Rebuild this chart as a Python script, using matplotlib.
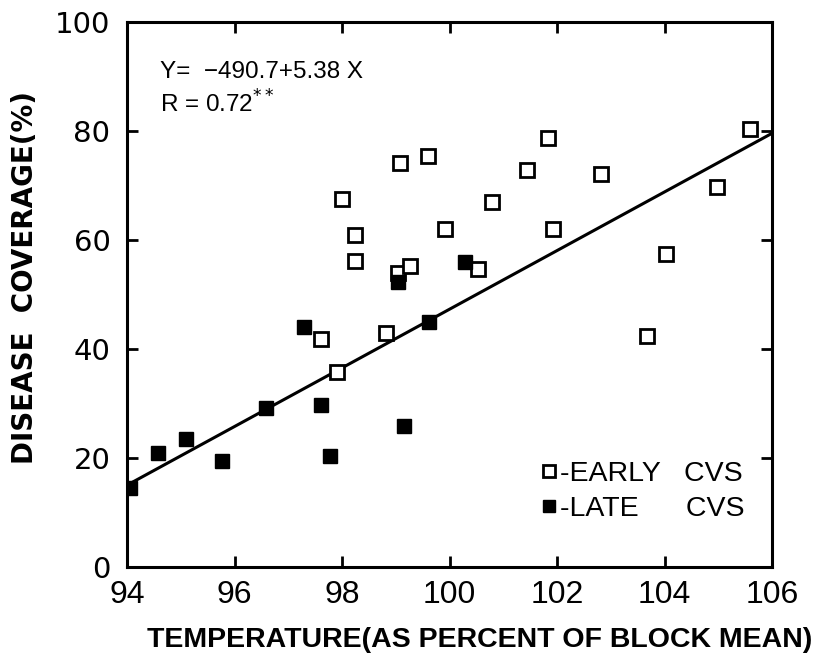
import matplotlib
matplotlib.use("Agg")
import matplotlib.pyplot as plt

# data
early_x = [99.08, 99.60, 97.99, 98.24, 98.25, 99.05, 99.27, 99.92, 97.61, 98.81, 97.90,
           105.59, 101.83, 101.45, 102.82, 100.79, 104.97, 101.92, 100.52, 104.03, 103.68]
early_y = [74.1, 75.4, 67.5, 60.9, 56.1, 54.0, 55.2, 62.1, 41.8, 43.0, 35.7,
           80.3, 78.7, 72.8, 72.1, 67.0, 69.7, 62.0, 54.6, 57.4, 42.3]
late_x = [94.05, 94.58, 95.10, 95.76, 96.59, 97.29, 97.61, 97.78, 99.05, 99.16, 99.61, 100.29]
late_y = [14.5, 21.0, 23.5, 19.5, 29.2, 44.1, 29.8, 20.4, 52.3, 25.9, 44.9, 55.9]

intercept = -490.7
slope = 5.38
line_x = [94, 106]

xticks = [94, 96, 98, 100, 102, 104, 106]
yticks = [0, 20, 40, 60, 80, 100]

fig = plt.figure(figsize=(8.17, 6.70), dpi=100)
ax = fig.add_axes([0.1555, 0.1537, 0.7895, 0.8135])

ax.plot(line_x, [intercept + slope * x for x in line_x], color="black", lw=2.2, zorder=2)
ax.plot(early_x, early_y, "s", ms=10, mfc="white", mec="black", mew=2.0, ls="none",
        zorder=3, label="-EARLY   CVS")
ax.plot(late_x, late_y, "s", ms=10.5, mfc="black", mec="black", ls="none",
        zorder=4, label="-LATE      CVS")

ax.set_xlim(94, 106)
ax.set_ylim(0, 100)
ax.set_xticks(xticks)
ax.set_yticks(yticks)
ax.tick_params(direction="in", length=8, width=2, top=True, right=True)
ax.tick_params(axis="x", pad=9)
ax.tick_params(axis="y", pad=12)
for s in ax.spines.values():
    s.set_linewidth(2.2)

for lab in ax.get_xticklabels():
    lab.set_fontfamily("Liberation Sans")
    lab.set_fontsize(23)
for lab in ax.get_yticklabels():
    lab.set_fontfamily("DejaVu Sans")
    lab.set_fontsize(21)

fig.text(25 / 817, 1 - 278 / 670, "DISEASE  COVERAGE(%)", fontsize=20, fontweight="bold",
         fontfamily="DejaVu Sans", rotation=90, ha="center", va="center")
fig.text(0.587, 0.045, "TEMPERATURE(AS PERCENT OF BLOCK MEAN)", fontsize=20.5,
         fontweight="bold", fontfamily="Liberation Sans", ha="center", va="center")

ax.text(0.051, 0.908, "Y=  \u2212490.7+5.38 X", transform=ax.transAxes, fontsize=17.5,
        fontfamily="Liberation Sans", va="center")
ax.text(0.051, 0.85, "R = 0.72$^{**}$", transform=ax.transAxes, fontsize=17.5,
        fontfamily="Liberation Sans", va="center")

ax.legend(loc="lower left", bbox_to_anchor=(0.643, 0.083), frameon=False,
          handlelength=0.5, handletextpad=0.15, markerscale=0.85, labelspacing=0.32,
          borderaxespad=0, borderpad=0,
          prop={"family": "Liberation Sans", "size": 20.5})

fig.savefig("out.png", dpi=100)
